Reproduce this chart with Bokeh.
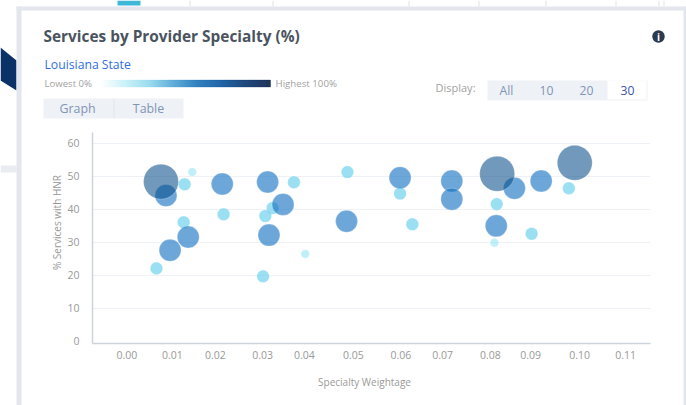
import numpy as np
from bokeh.plotting import figure
from bokeh.layouts import column
from bokeh.embed import file_html
from bokeh.resources import INLINE
from bokeh.core.properties import value
from bokeh.models import FixedTicker, ColumnDataSource, Range1d

# ---- data ----
title = "Services by Provider Specialty (%)"
state = "Louisiana State"
x_label = "Specialty Weightage"
y_label = "% Services with HNR"
y_ticks = [0, 10, 20, 30, 40, 50, 60]
x_tick_pos = [0.0, 0.0100, 0.0195, 0.0299, 0.0391, 0.0499, 0.0604, 0.0696, 0.0801, 0.0890, 0.0998, 0.1099]
x_tick_labels = ["0.00", "0.01", "0.02", "0.03", "0.04", "0.05", "0.06", "0.07", "0.08", "0.09", "0.10", "0.11"]

high_x = [0.0075, 0.0816, 0.0987]
high_y = [48.3, 50.7, 54.0]
mid_x = [0.0210, 0.0310, 0.0344, 0.0086, 0.0135, 0.0095, 0.0313, 0.0484, 0.0602, 0.0716, 0.0716, 0.0854, 0.0913, 0.0814]
mid_y = [47.6, 48.2, 41.4, 44.1, 31.5, 27.5, 32.1, 36.3, 49.5, 48.5, 43.0, 46.3, 48.5, 34.9]
low_x = [0.0127, 0.0368, 0.0321, 0.0305, 0.0213, 0.0125, 0.0065, 0.0300, 0.0486, 0.0602, 0.0974, 0.0815, 0.0629, 0.0892]
low_y = [47.5, 48.1, 40.3, 37.9, 38.4, 36.0, 22.0, 19.6, 51.2, 44.7, 46.3, 41.5, 35.4, 32.5]
min_x = [0.0144, 0.0393, 0.0810]
min_y = [51.2, 26.4, 29.8]

FONT = "Open Sans"
W, H = 686, 405

# panel furniture lives on a full-size backing figure whose data units are page pixels
bg = figure(width=W, height=H, output_backend="svg", toolbar_location=None, frame_align=False,
            x_range=Range1d(0, W), y_range=Range1d(H, 0), x_axis_type=None, y_axis_type=None,
            min_border=0, outline_line_color=None, background_fill_color="white", border_fill_color="white")
bg.grid.visible = False

def box(l, t, r, b, color):
    bg.quad(left=[l], right=[r], top=[t], bottom=[b], fill_color=color, line_color=None)

def text(x, y, s, size, color, align="left", style="normal", angle=0):
    bg.text(x=[x], y=[y], text=[s], text_font=value(FONT), text_font_size=value(f"{size}px"),
            text_color=color, text_align=align, text_baseline="middle", text_font_style=style, angle=angle)

# page behind the card
box(0, 165, 16, 172, "#e9ecf0")
box(117, 0, 140, 5, "#3fb8d8")
for vx in (189, 272, 408, 478, 545, 615, 658, 663):
    box(vx, 0, vx + 1, 6, "#dfe2e8")
bg.patch([0, 16, 16, 0], [47, 60, 90, 80], fill_color="#0a3268", line_color=None)
# card frame
box(16, 6, 686, 10, "#e3e6ec")
box(16, 6, 21, 405, "#e3e6ec")
box(683, 6, 686, 405, "#e3e6ec")

# header
text(43, 36, title, 15.4, "#4a545f", style="bold")
text(44, 64, state, 12.2, "#2f6fe0")
text(44, 83, "Lowest 0%", 9.6, "#a2a2a2")
text(275, 83, "Highest 100%", 9.7, "#a2a2a2")
stops = ["#ffffff", "#c4f1f8", "#8fd8ee", "#4ba3d4", "#1570b8", "#024f9b", "#012f6b", "#001a45"]
rgb = np.array([[int(c[i:i + 2], 16) for i in (1, 3, 5)] for c in stops], float)
t = np.linspace(0, len(stops) - 1, 170)
pal = ["#%02x%02x%02x" % tuple(int(np.interp(v, np.arange(len(stops)), rgb[:, k])) for k in range(3)) for v in t]
edges = 100 + np.arange(171)
bg.quad(left=edges[:-1], right=edges[1:], top=79.5, bottom=86.5, fill_color=pal, line_color=pal, line_width=0.3)

# Graph / Table
box(43, 98, 183, 118, "#eef1f5")
box(113, 98, 114, 118, "#e2e6ec")
text(77, 108, "Graph", 12.4, "#8194b8", "center")
text(148, 108, "Table", 12.4, "#8194b8", "center")

# Display switch
text(435, 87, "Display:", 11, "#a2a2a2")
box(487, 80, 647, 100, "#eef1f5")
box(607, 80, 646, 99, "#ffffff")
text(506, 90, "All", 12.2, "#8194b8", "center")
text(546, 90, "10", 12.2, "#8194b8", "center")
text(586, 90, "20", 12.2, "#8194b8", "center")
text(627, 90, "30", 12.2, "#3d55a8", "center")

# info icon
bg.scatter(x=[658], y=[36], size=12.5, fill_color="#2c3a50", line_color=None)
text(658, 36, "i", 10, "#ffffff", "center", "bold")

# axis titles
text(364, 381, x_label, 10, "#999999", "center")
text(56.5, 222, y_label, 10, "#999999", "center", angle=np.pi / 2)

# the chart
p = figure(width=W, height=H, output_backend="svg", toolbar_location=None, frame_align=False,
           x_range=Range1d(-0.0076, 0.1154), y_range=Range1d(-0.76, 63.2),
           min_border_left=92, min_border_right=W - 650,
           min_border_top=132, min_border_bottom=H - 343,
           outline_line_color=None, background_fill_alpha=0, border_fill_alpha=0,
           styles={"position": "absolute", "left": "0px", "top": "0px"})

p.xaxis.ticker = FixedTicker(ticks=x_tick_pos)
p.xaxis.major_label_overrides = dict(zip(x_tick_pos, x_tick_labels))
p.yaxis.ticker = FixedTicker(ticks=y_ticks)
for ax in (p.xaxis[0], p.yaxis[0]):
    ax.axis_line_color = "#ccd3dc"
    ax.axis_line_width = 1.5
    ax.major_tick_line_color = None
    ax.minor_tick_line_color = None
    ax.major_label_text_font = FONT
    ax.major_label_text_font_size = "10.5px"
    ax.major_label_text_color = "#999999"
p.xaxis.major_label_standoff = 1
p.yaxis.major_label_standoff = 7
p.xgrid.visible = False
p.ygrid.ticker = FixedTicker(ticks=y_ticks[1:])
p.ygrid.grid_line_color = "#eef2f6"

tiers = [(min_x, min_y, 8.5, "#8be4f2", 0.55),
         (low_x, low_y, 12.6, "#52c8e8", 0.58),
         (mid_x, mid_y, 22, "#0c6cc0", 0.6),
         (high_x, high_y, 35, "#024a85", 0.56)]
for xs, ys, d, c, al in tiers:
    p.scatter(x="x", y="y", source=ColumnDataSource(dict(x=xs, y=ys)), size=d,
              fill_color=c, fill_alpha=al, line_color="#ffffff", line_alpha=0.5, line_width=0.5)

open("out.html", "w").write(file_html(column(bg, p, styles={"position": "relative"}), INLINE))
